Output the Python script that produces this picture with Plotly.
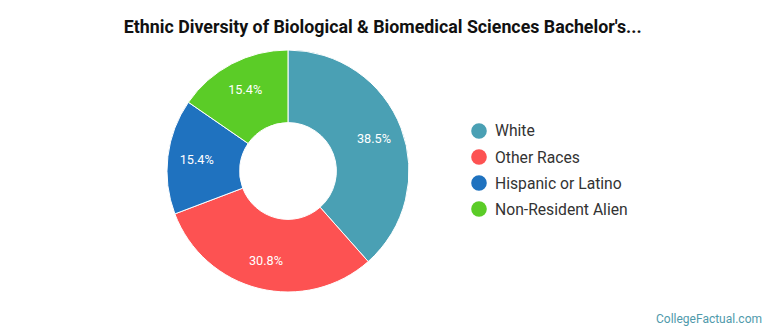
import plotly.graph_objects as go

categories = ["White", "Other Races", "Hispanic or Latino", "Non-Resident Alien"]
values = [5, 4, 2, 2]
colors = ["#4aa0b4", "#fd5252", "#1f72bf", "#5bcc27"]
title_text = "Ethnic Diversity of Biological & Biomedical Sciences Bachelor's..."

pie_domain = dict(x=[0.2168, 0.5312], y=[0.1284, 0.8507])

fig = go.Figure()
# visible donut
fig.add_trace(go.Pie(
    labels=categories, values=values, sort=False, direction="clockwise",
    rotation=0, hole=0.4,
    marker=dict(colors=colors, line=dict(color="white", width=1)),
    textinfo="none", showlegend=False, hoverinfo="label+percent",
    domain=pie_domain,
))
# transparent overlay used only to place the percentage labels further out
fig.add_trace(go.Pie(
    labels=categories, values=values, sort=False, direction="clockwise",
    rotation=0, hole=0.52,
    marker=dict(colors=["rgba(0,0,0,0)"] * len(values), line=dict(width=0)),
    textinfo="percent", texttemplate="%{percent:.1%}",
    textposition="inside", insidetextorientation="horizontal",
    textfont=dict(family="Roboto", size=12.7, color="white"),
    showlegend=False, hoverinfo="skip",
    domain=pie_domain,
))

# legend (circle markers + labels)
legend_x_marker = 479 / 770
legend_x_text = 492.5 / 770
legend_y0 = 131
legend_dy = 26
r_px = 7.8
shapes = []
annotations = []
for i, (cat, col) in enumerate(zip(categories, colors)):
    yc_px = legend_y0 + i * legend_dy
    yc = 1 - yc_px / 335
    shapes.append(dict(type="circle", xref="paper", yref="paper",
                       x0=legend_x_marker - r_px / 770, x1=legend_x_marker + r_px / 770,
                       y0=yc - r_px / 335, y1=yc + r_px / 335,
                       fillcolor=col, line=dict(width=0)))
    annotations.append(dict(text=cat, xref="paper", yref="paper",
                            x=legend_x_text, y=yc, xanchor="left", yanchor="middle",
                            showarrow=False,
                            font=dict(family="Roboto", size=15.7, color="#333")))

annotations.append(dict(text="CollegeFactual.com", xref="paper", yref="paper",
                        x=0.992, y=0.02, xanchor="right", yanchor="bottom",
                        showarrow=False,
                        font=dict(family="Roboto", size=12, color="#4f9aab")))

fig.update_layout(
    width=770, height=335, margin=dict(l=0, r=0, t=0, b=0),
    paper_bgcolor="white", plot_bgcolor="white",
    title=dict(text="<b>" + title_text + "</b>", x=0.497, xanchor="center",
               y=0.92, yanchor="middle",
               font=dict(family="Roboto", size=17.8, color="#111")),
    shapes=shapes, annotations=annotations,
)
fig.write_html("out.html")
